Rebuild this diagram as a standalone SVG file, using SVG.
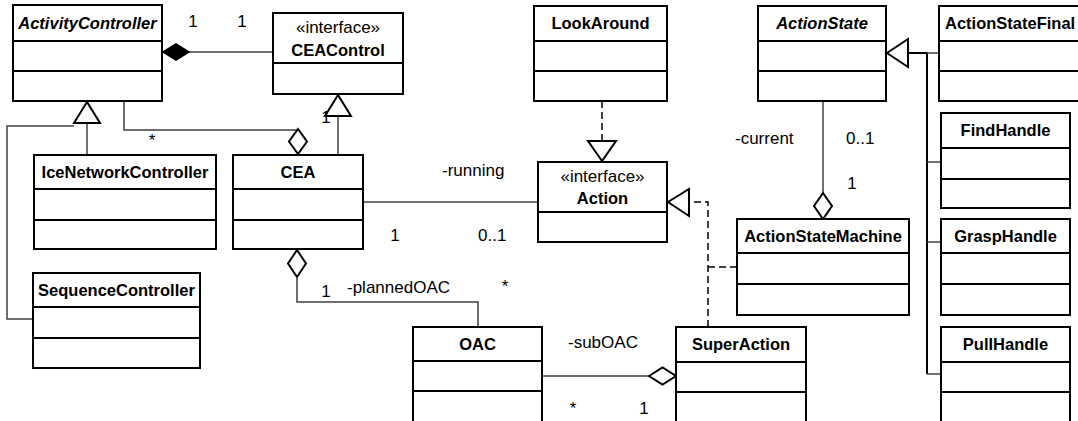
<svg xmlns="http://www.w3.org/2000/svg" width="1078" height="421" viewBox="0 0 1078 421">
<style>
.box{fill:#fff;stroke:#000;stroke-width:2}
.sep{stroke:#000;stroke-width:2}
.t{font-family:"Liberation Sans",Arial,sans-serif;font-size:16.5px;font-weight:bold;fill:#000;text-anchor:middle}
.ti{font-style:italic}
.st{font-family:"Liberation Sans",Arial,sans-serif;font-size:17px;fill:#000;text-anchor:middle}
.lb{font-family:"Liberation Sans",Arial,sans-serif;font-size:17px;fill:#000}
.c{fill:none;stroke:#404040;stroke-width:1.5}
.d{fill:none;stroke:#000;stroke-width:1.5;stroke-dasharray:7,4}
.k{fill:none;stroke:#000;stroke-width:2}
.hol{fill:#fff;stroke:#000;stroke-width:2}
.fil{fill:#000;stroke:#000;stroke-width:1.5}
</style>
<g id="connectors">
<line class="c" x1="189" y1="52" x2="273" y2="52"/>
<polygon class="fil" points="163,52 176,44 189,52 176,60"/>
<polyline class="c" points="87,155 87,123"/>
<polyline class="c" points="33,319 7,319 7,126 74,126"/>
<polygon class="hol" points="87,102 74,123 100,123"/>
<polyline class="c" points="124,101 124,130 298,130"/>
<polygon class="hol" points="298,129 307,141.5 298,154 289,141.5"/>
<line class="c" x1="338" y1="154" x2="338" y2="116"/>
<polygon class="hol" points="338,95 325,116 351,116"/>
<line class="c" x1="363" y1="202" x2="538" y2="202"/>
<polygon class="hol" points="297,250 306,263.5 297,277 288,263.5"/>
<polyline class="c" points="297,277 297,302 478,302 478,327"/>
<line class="d" x1="602" y1="101" x2="602" y2="141"/>
<polygon class="hol" points="602,161 588,141 616,141"/>
<polyline class="d" points="708,327 708,202 689,202"/>
<polygon class="hol" points="668,202 689,189 689,216"/>
<line class="d" x1="737" y1="267" x2="708" y2="267"/>
<line class="c" x1="542" y1="376" x2="649" y2="376"/>
<polygon class="hol" points="649,376 662.5,367.5 676,376 662.5,384.5"/>
<line class="c" x1="823" y1="101" x2="823" y2="193"/>
<polygon class="hol" points="823,193 832,206 823,219 814,206"/>
<polyline class="k" points="908,53 927,53 927,374"/>
<line class="c" x1="927" y1="53" x2="939" y2="53"/>
<line class="c" x1="927" y1="162" x2="941" y2="162"/>
<line class="c" x1="927" y1="242" x2="941" y2="242"/>
<line class="c" x1="927" y1="374" x2="941" y2="374"/>
<polygon class="hol" points="887,53 908,39 908,67"/>
</g>
<g id="labels">
<text class="st" x="193" y="27">1</text>
<text class="st" x="242" y="27">1</text>
<text class="st" x="152" y="146">*</text>
<text class="st" x="326" y="123">1</text>
<text class="lb" x="442" y="176">-running</text>
<text class="st" x="395" y="241">1</text>
<text class="lb" x="478" y="241">0..1</text>
<text class="st" x="326" y="297">1</text>
<text class="lb" x="347" y="293">-plannedOAC</text>
<text class="st" x="505" y="292">*</text>
<text class="lb" x="568" y="348">-subOAC</text>
<text class="st" x="573" y="414">*</text>
<text class="st" x="644" y="414">1</text>
<text class="lb" x="735" y="144">-current</text>
<text class="lb" x="846" y="144">0..1</text>
<text class="st" x="852" y="189">1</text>
</g>
<g id="ActivityController">
<rect class="box" x="13" y="5" width="149" height="96"/>
<line class="sep" x1="13" y1="41" x2="162" y2="41"/><line class="sep" x1="13" y1="71" x2="162" y2="71"/>
<text class="t ti" x="87.5" y="29">ActivityController</text>
</g>
<g id="CEAControl">
<rect class="box" x="273" y="13" width="130" height="81"/>
<line class="sep" x1="273" y1="63" x2="403" y2="63"/>
<text class="st" x="338" y="33">«interface»</text>
<text class="t" x="338" y="56">CEAControl</text>
</g>
<g id="IceNetworkController">
<rect class="box" x="34" y="155" width="182" height="94"/>
<line class="sep" x1="34" y1="189" x2="216" y2="189"/><line class="sep" x1="34" y1="220" x2="216" y2="220"/>
<text class="t" x="125" y="178">IceNetworkController</text>
</g>
<g id="CEA">
<rect class="box" x="233" y="155" width="130" height="94"/>
<line class="sep" x1="233" y1="189" x2="363" y2="189"/><line class="sep" x1="233" y1="220" x2="363" y2="220"/>
<text class="t" x="298" y="178">CEA</text>
</g>
<g id="SequenceController">
<rect class="box" x="33" y="273" width="167" height="95"/>
<line class="sep" x1="33" y1="307" x2="200" y2="307"/><line class="sep" x1="33" y1="338" x2="200" y2="338"/>
<text class="t" x="116.5" y="296">SequenceController</text>
</g>
<g id="LookAround">
<rect class="box" x="534" y="6" width="133" height="95"/>
<line class="sep" x1="534" y1="41" x2="667" y2="41"/><line class="sep" x1="534" y1="71" x2="667" y2="71"/>
<text class="t" x="600.5" y="29">LookAround</text>
</g>
<g id="Action">
<rect class="box" x="538" y="162" width="129" height="80"/>
<line class="sep" x1="538" y1="212" x2="667" y2="212"/>
<text class="st" x="602.5" y="182">«interface»</text>
<text class="t" x="602.5" y="204">Action</text>
</g>
<g id="ActionState">
<rect class="box" x="758" y="6" width="128" height="95"/>
<line class="sep" x1="758" y1="41" x2="886" y2="41"/><line class="sep" x1="758" y1="71" x2="886" y2="71"/>
<text class="t ti" x="822" y="29">ActionState</text>
</g>
<g id="ActionStateFinal">
<rect class="box" x="939" y="6" width="160" height="95"/>
<line class="sep" x1="939" y1="41" x2="1099" y2="41"/><line class="sep" x1="939" y1="71" x2="1099" y2="71"/>
<text class="t" x="945" y="29" style="text-anchor:start">ActionStateFinal</text>
</g>
<g id="FindHandle">
<rect class="box" x="941" y="113" width="129" height="95"/>
<line class="sep" x1="941" y1="148" x2="1070" y2="148"/><line class="sep" x1="941" y1="179" x2="1070" y2="179"/>
<text class="t" x="1005.5" y="136">FindHandle</text>
</g>
<g id="GraspHandle">
<rect class="box" x="941" y="219" width="129" height="96"/>
<line class="sep" x1="941" y1="253" x2="1070" y2="253"/><line class="sep" x1="941" y1="284" x2="1070" y2="284"/>
<text class="t" x="1005.5" y="242">GraspHandle</text>
</g>
<g id="PullHandle">
<rect class="box" x="941" y="327" width="129" height="110"/>
<line class="sep" x1="941" y1="362" x2="1070" y2="362"/><line class="sep" x1="941" y1="392" x2="1070" y2="392"/>
<text class="t" x="1005.5" y="350">PullHandle</text>
</g>
<g id="ActionStateMachine">
<rect class="box" x="737" y="219" width="172" height="96"/>
<line class="sep" x1="737" y1="253" x2="909" y2="253"/><line class="sep" x1="737" y1="284" x2="909" y2="284"/>
<text class="t" x="823" y="242">ActionStateMachine</text>
</g>
<g id="OAC">
<rect class="box" x="413" y="327" width="129" height="110"/>
<line class="sep" x1="413" y1="361" x2="542" y2="361"/><line class="sep" x1="413" y1="391" x2="542" y2="391"/>
<text class="t" x="477.5" y="350">OAC</text>
</g>
<g id="SuperAction">
<rect class="box" x="676" y="327" width="130" height="110"/>
<line class="sep" x1="676" y1="362" x2="806" y2="362"/><line class="sep" x1="676" y1="392" x2="806" y2="392"/>
<text class="t" x="741" y="350">SuperAction</text>
</g>
</svg>
